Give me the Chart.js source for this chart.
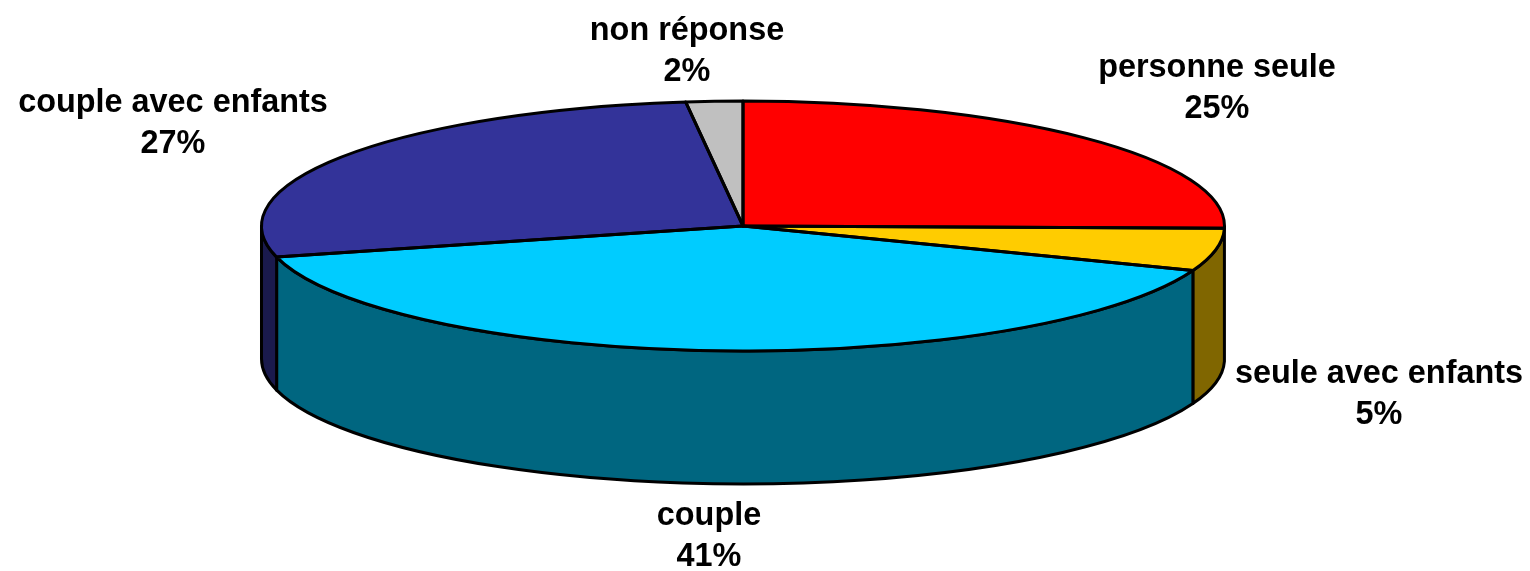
<!DOCTYPE html>
<html><head><meta charset="utf-8">
<style>html,body{margin:0;padding:0;background:#fff;overflow:hidden}canvas{display:block}</style>
<script src="https://cdn.jsdelivr.net/npm/chart.js@4"></script>
</head><body><canvas id="c" width="1530" height="571"></canvas>
<script>
const categories = ["personne seule","seule avec enfants","couple","couple avec enfants","non réponse"];
const sliceShares = [25.3,5.5,40.2,27.1,1.9];
const labelPercents = [25,5,41,27,2];
const topColors = ["#FF0000","#FFCC00","#00CCFF","#333399","#C0C0C0"];
const wallColors = ["#800000","#806600","#006680","#1A1A4D","#606060"];
const labelCenters = [[1217,68],[1379,374],[709,516],[173,103],[687,31]];

const RX = 481.5, DEPTH = 133, LINE = 41, STROKE = 3;

function outlineTop(ctx, a){
  ctx.beginPath();
  ctx.moveTo(a.x, a.y);
  ctx.ellipse(a.x, a.y, RX, a.outerRadius, 0, a.startAngle, a.endAngle);
  ctx.closePath();
  ctx.stroke();
}
const pie3d = {
  id:'pie3d',
  beforeDatasetsDraw(chart){
    const ctx = chart.ctx;
    const arcs = chart.getDatasetMeta(0).data;
    ctx.save();
    ctx.lineWidth = STROKE; ctx.strokeStyle = '#000'; ctx.lineJoin = 'round';
    arcs.forEach((a,i)=>{
      const twoPi = Math.PI*2;
      let s = a.startAngle, e = a.endAngle;
      const k = Math.floor(s/twoPi); s -= k*twoPi; e -= k*twoPi;
      const s2 = Math.max(s,0), e2 = Math.min(e,Math.PI);
      if (e2 <= s2 + 1e-6) return;
      ctx.beginPath();
      ctx.ellipse(a.x,a.y,RX,a.outerRadius,0,s2,e2);
      ctx.lineTo(a.x+RX*Math.cos(e2),a.y+a.outerRadius*Math.sin(e2)+DEPTH);
      ctx.ellipse(a.x,a.y+DEPTH,RX,a.outerRadius,0,e2,s2,true);
      ctx.closePath();
      ctx.fillStyle = wallColors[i];
      ctx.fill(); ctx.stroke();
    });
    ctx.restore();
  },
  beforeDatasetDraw(chart,args){
    const ctx = chart.ctx, a = args.meta.data[0];
    const sx = RX/a.outerRadius;
    ctx.save();
    ctx.translate(a.x,a.y); ctx.scale(sx,1); ctx.translate(-a.x,-a.y);
  },
  afterDatasetDraw(chart,args){ chart.ctx.restore(); },
  afterDatasetsDraw(chart){
    const ctx = chart.ctx;
    const arcs = chart.getDatasetMeta(0).data;
    ctx.save();
    ctx.lineWidth = STROKE; ctx.strokeStyle = '#000'; ctx.lineJoin = 'round';
    arcs.forEach(a=>outlineTop(ctx,a));
    ctx.fillStyle = '#000';
    ctx.font = 'bold 32.4px "Liberation Sans", Arial, sans-serif';
    ctx.textAlign = 'center'; ctx.textBaseline = 'middle';
    categories.forEach((c,i)=>{
      const [x,y] = labelCenters[i];
      ctx.fillText(c,x,y);
      ctx.fillText(labelPercents[i]+'%',x,y+LINE);
    });
    ctx.restore();
  }
};
new Chart(document.getElementById('c'),{
  type:'pie',
  data:{labels:categories,datasets:[{data:sliceShares,backgroundColor:topColors,borderWidth:0,clip:false}]},
  options:{
    responsive:false,animation:false,
    layout:{padding:{left:0,right:44,top:101,bottom:220}},
    plugins:{legend:{display:false},tooltip:{enabled:false}}
  },
  plugins:[pie3d]
});
</script></body></html>
